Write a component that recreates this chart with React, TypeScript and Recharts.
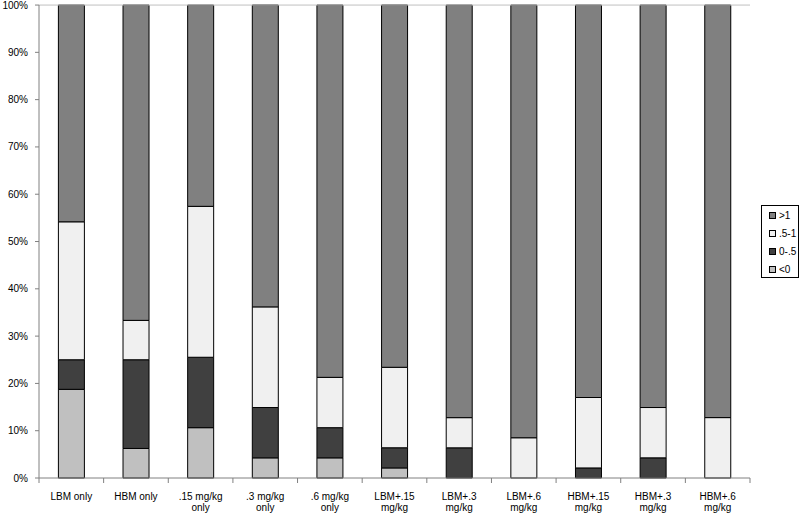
import React from 'react';
import {
  BarChart,
  Bar,
  XAxis,
  YAxis,
  ReferenceLine,
} from 'recharts';

const categories = [
  'LBM only',
  'HBM only',
  '.15 mg/kg\nonly',
  '.3 mg/kg\nonly',
  '.6 mg/kg\nonly',
  'LBM+.15\nmg/kg',
  'LBM+.3\nmg/kg',
  'LBM+.6\nmg/kg',
  'HBM+.15\nmg/kg',
  'HBM+.3\nmg/kg',
  'HBM+.6\nmg/kg',
];

// percent of subjects in each band
const below0 = [18.75, 6.25, 10.64, 4.26, 4.26, 2.13, 0, 0, 0, 0, 0];
const zeroToHalf = [6.25, 18.75, 14.89, 10.64, 6.38, 4.26, 6.38, 0, 2.13, 4.26, 0];
const halfToOne = [29.17, 8.33, 31.91, 21.28, 10.64, 17.02, 6.38, 8.51, 14.89, 10.64, 12.77];
const aboveOne = [45.83, 66.67, 42.55, 63.83, 78.72, 76.6, 87.23, 91.49, 82.98, 85.1, 87.23];

const yTicks = [0, 10, 20, 30, 40, 50, 60, 70, 80, 90, 100];

const series = [
  { key: 'neg', name: '<0', color: '#c0c0c0', values: below0 },
  { key: 'low', name: '0-.5', color: '#404040', values: zeroToHalf },
  { key: 'mid', name: '.5-1', color: '#f0f0f0', values: halfToOne },
  { key: 'high', name: '>1', color: '#808080', values: aboveOne },
];

const data = categories.map((c, i) => {
  const row: Record<string, string | number> = { name: c };
  series.forEach((s) => {
    row[s.key] = s.values[i];
  });
  return row;
});

const W = 800;
const H = 514;
const LEFT = 39;
const RIGHT = 50;
const BAND = (W - LEFT - RIGHT) / categories.length;
const FONT = '"Liberation Sans", Arial, sans-serif';

const XTick = (props: any) => {
  const { x, y, payload, index } = props;
  const lines = String(payload.value).split('\n');
  // tickSize/tickMargin are 0, so y sits on the axis line
  return (
    <g>
      <line x1={x - BAND / 2} x2={x - BAND / 2} y1={y} y2={y + 5} stroke="#808080" />
      {index === categories.length - 1 && (
        <line x1={x + BAND / 2} x2={x + BAND / 2} y1={y} y2={y + 5} stroke="#808080" />
      )}
      <text textAnchor="middle" fontSize={10} fontFamily={FONT} fill="#000">
        {lines.map((l, i) => (
          <tspan key={i} x={x} y={y + 22 + i * 11}>
            {l}
          </tspan>
        ))}
      </text>
    </g>
  );
};

export default function App() {
  return (
    <div style={{ position: 'absolute', left: 0, top: 0, width: W, height: H, background: '#fff' }}>
      <BarChart
        width={W}
        height={H}
        data={data}
        margin={{ top: 5, right: RIGHT, bottom: 0, left: 0 }}
        barCategoryGap="30%"
      >
        <XAxis
          dataKey="name"
          interval={0}
          height={36}
          tickLine={false}
          tickSize={0}
          tickMargin={0}
          axisLine={{ stroke: '#808080' }}
          tick={<XTick />}
        />
        <YAxis
          width={LEFT}
          domain={[0, 100]}
          ticks={yTicks}
          tickFormatter={(v) => `${v}%`}
          tickSize={4}
          tickMargin={7}
          axisLine={{ stroke: '#808080' }}
          tickLine={{ stroke: '#808080' }}
          tick={{ fontSize: 10, fontFamily: FONT, fill: '#000' }}
        />
        <YAxis
          yAxisId="frame"
          orientation="right"
          width={0}
          tick={false}
          tickLine={false}
          axisLine={{ stroke: '#c0c0c0' }}
        />
        <ReferenceLine y={100} stroke="#c0c0c0" />
        {series.map((s) => (
          <Bar
            key={s.key}
            dataKey={s.key}
            name={s.name}
            stackId="a"
            fill={s.color}
            stroke="#000"
            strokeWidth={1}
            isAnimationActive={false}
          />
        ))}
      </BarChart>
      <div
        style={{
          position: 'absolute',
          left: 761,
          top: 205,
          width: 38,
          height: 73,
          border: '1px solid #000',
          fontFamily: FONT,
          fontSize: 10,
          color: '#000',
          boxSizing: 'border-box',
          paddingTop: 0,
        }}
      >
        {[...series].reverse().map((s) => (
          <div key={s.key} style={{ display: 'flex', alignItems: 'center', height: 18, paddingLeft: 7 }}>
            <span
              style={{
                display: 'inline-block',
                width: 5,
                height: 5,
                background: s.color,
                border: '1px solid #000',
                marginRight: 3,
              }}
            />
            <span>{s.name}</span>
          </div>
        ))}
      </div>
    </div>
  );
}
